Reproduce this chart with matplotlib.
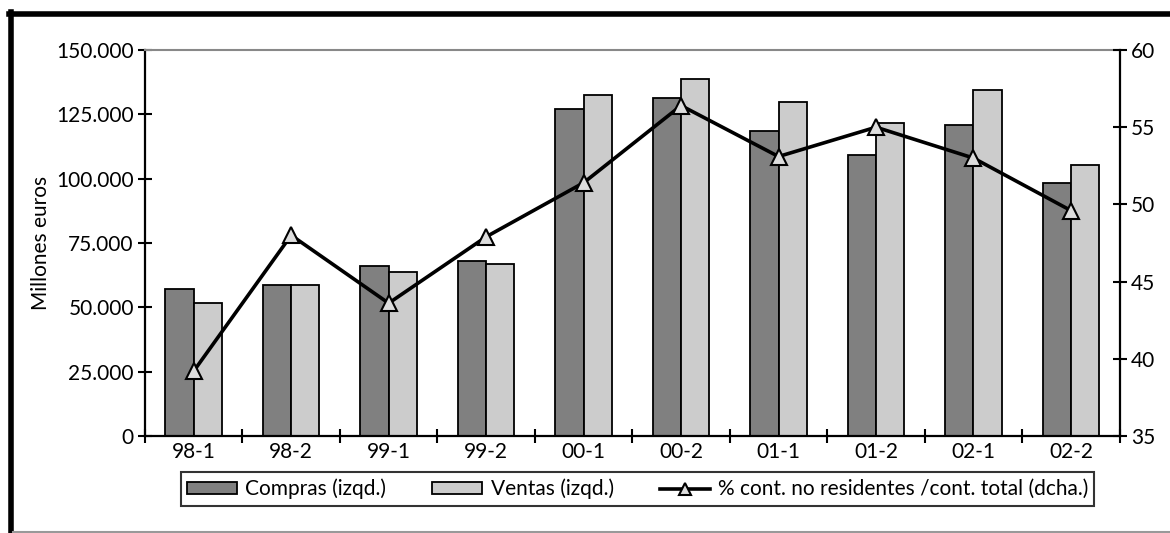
import numpy as np
import matplotlib
matplotlib.use("Agg")
import matplotlib.pyplot as plt
from matplotlib.ticker import FuncFormatter
from matplotlib.lines import Line2D

plt.rcParams['font.family'] = ['Lato', 'DejaVu Sans']

# data
periodos = ['98-1', '98-2', '99-1', '99-2', '00-1', '00-2', '01-1', '01-2', '02-1', '02-2']
compras = [57000, 58700, 66000, 68100, 127000, 131300, 118600, 109200, 120800, 98200]
ventas = [51800, 58700, 63700, 66800, 132600, 138800, 129800, 121700, 134400, 105500]
pct_no_res = [39.2, 48.0, 43.6, 47.9, 51.4, 56.4, 53.1, 55.0, 53.0, 49.6]

fig = plt.figure(figsize=(11.7, 5.33), dpi=100)
ax = fig.add_axes([0.1239, 0.182, 0.8331, 0.7242])

x = np.arange(len(periodos))
w = 0.29
b1 = ax.bar(x - w / 2, compras, w, color='#808080', edgecolor='black', linewidth=1.3,
            label='Compras (izqd.)', zorder=2)
b2 = ax.bar(x + w / 2, ventas, w, color='#cccccc', edgecolor='black', linewidth=1.3,
            label='Ventas (izqd.)', zorder=2)

ax.set_xlim(-0.5, len(periodos) - 0.5)
ax.set_ylim(0, 150000)
ax.set_yticks(np.arange(0, 150001, 25000))
ax.yaxis.set_major_formatter(FuncFormatter(lambda v, p: f'{int(v):,}'.replace(',', '.')))
ax.set_xticks(x)
ax.set_xticklabels(periodos)
ax.set_xticks(np.arange(-0.5, len(periodos) - 0.4, 1), minor=True)
ax.tick_params(axis='x', which='major', length=0, labelsize=15, pad=4)
ax.tick_params(axis='x', which='minor', direction='inout', length=10, width=1.5)
ax.tick_params(axis='y', direction='inout', length=10, width=1.5, labelsize=15, pad=3)
ax.set_ylabel('Millones euros', fontsize=15, labelpad=4)

for s in ['left', 'bottom', 'right']:
    ax.spines[s].set_linewidth(1.6)
    ax.spines[s].set_color('black')
ax.spines['top'].set_color('#888888')
ax.spines['top'].set_linewidth(1.5)

ax2 = ax.twinx()
ax2.plot(x, pct_no_res, color='black', linewidth=2.6, marker='^', markersize=12,
         markerfacecolor='#dddddd', markeredgecolor='black', markeredgewidth=1.5, zorder=3)
ax2.set_ylim(35, 60)
ax2.set_yticks(np.arange(35, 61, 5))
ax2.tick_params(axis='y', direction='inout', length=10, width=1.5, labelsize=15, pad=3)
for s in ax2.spines.values():
    s.set_visible(False)

handles = [b1, b2, Line2D([], [], color='black', linewidth=2.6, marker='^', markersize=8,
                          markerfacecolor='#dddddd', markeredgecolor='black', markeredgewidth=1.5)]
labels = ['Compras (izqd.)', 'Ventas (izqd.)', '% cont. no residentes /cont. total (dcha.)']
leg = fig.legend(handles, labels, loc='center', bbox_to_anchor=(0.545, 0.0826), ncol=3,
                 fontsize=15, frameon=True, fancybox=False, edgecolor='black',
                 handlelength=2.4, handleheight=0.5, handletextpad=0.4, columnspacing=2.2,
                 borderpad=0.3)
leg.get_frame().set_linewidth(1.5)

# figure frame: thick black at left/top, thin grey at bottom
fig.add_artist(Line2D([0.0094, 0.0094], [0, 0.9775], color='black', linewidth=4, transform=fig.transFigure))
fig.add_artist(Line2D([0.0077, 1], [0.9737, 0.9737], color='black', linewidth=4, transform=fig.transFigure))
fig.add_artist(Line2D([0.011, 1], [0.002, 0.002], color='#999999', linewidth=1.5, transform=fig.transFigure))

fig.savefig('out.png', dpi=100)
